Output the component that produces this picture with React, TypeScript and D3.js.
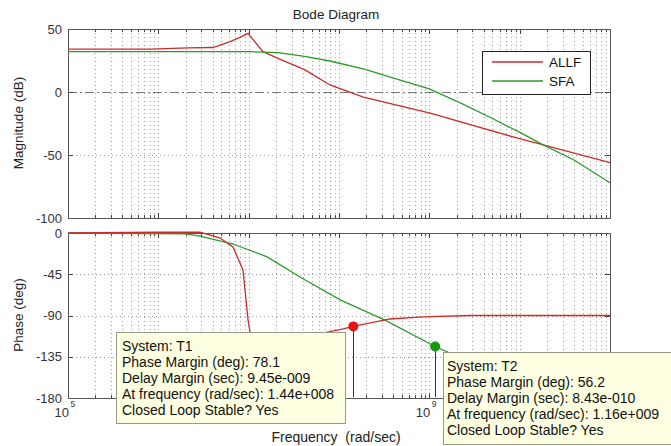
import React, { useEffect, useRef } from 'react';
import * as d3 from 'd3';

// frequencies in rad/sec
const allfMagFreq = [1e5, 8.1e5, 2.13e6, 4.03e6, 6.21e6, 8.02e6, 9.84e6, 1.44e7, 2.11e7, 4.21e7, 7.94e7, 1.86e8, 1.02e9, 9.3e9, 1.82e10, 1e11];
const allfMagDb = [34, 34, 35, 35.3, 40, 43.4, 46.5, 32, 26.7, 17.5, 5.6, -4, -16.7, -36.5, -42, -56];

const sfaMagFreq = [1e5, 1e7, 2.11e7, 4e7, 7.94e7, 1.95e8, 4e8, 1e9, 2.2e9, 5e9, 9.8e9, 1.82e10, 4e10, 1e11];
const sfaMagDb = [32, 32, 31.3, 28.5, 24.6, 18, 11, 2.4, -8.7, -21, -31.7, -42, -54, -72];

const allfPhFreq = [1e5, 1e6, 2.9e6, 3.46e6, 4.82e6, 6.71e6, 8.65e6, 9.84e6, 1.035e7, 1.09e7, 3.7e7, 1.11e8, 1.44e8, 3.67e8, 8.51e8, 2.82e9, 1e11];
const allfPhDeg = [0, 0.8, 0.8, -1.1, -5.5, -15.3, -40.4, -94.9, -108, -116.7, -114.5, -104.7, -101.9, -93.8, -91.6, -90, -90];

const sfaPhFreq = [1e5, 2e6, 2.89e6, 6.71e6, 1.6e7, 3.7e7, 1.03e8, 3.23e8, 1.16e9, 6.05e9, 1e11];
const sfaPhDeg = [0, -1, -3.3, -12, -26, -48, -73, -95, -123.8, -155, -171];

const magTicks = [50, 0, -50, -100];
const phaseTicks = [0, -45, -90, -135, -180];
const decades = [5, 6, 7, 8, 9, 10, 11];
// decade labels that are not hidden under the data tips
const shownDecades = [5, 8, 9];

const seriesNames = ['ALLF', 'SFA'];
const seriesColors = ['#cc2b2b', '#2b9b2b'];

const tipT1 = ['System: T1', 'Phase Margin (deg): 78.1', 'Delay Margin (sec): 9.45e-009', 'At frequency (rad/sec): 1.44e+008', 'Closed Loop Stable? Yes'];
const tipT2 = ['System: T2', 'Phase Margin (deg): 56.2', 'Delay Margin (sec): 8.43e-010', 'At frequency (rad/sec): 1.16e+009', 'Closed Loop Stable? Yes'];
const marginFreq = [1.44e8, 1.16e9];
const marginPhase = [-101.9, -123.8];

const FONT = '"Liberation Sans", Arial, sans-serif';

export default function App() {
  const ref = useRef<SVGSVGElement>(null);

  useEffect(() => {
    if (!ref.current) return;
    const svg = d3.select(ref.current);
    svg.selectAll('*').remove();

    const left = 68, right = 610;
    const x = d3.scaleLog().domain([1e5, 1e11]).range([left, right]);
    const yMag = d3.scaleLinear().domain([-100, 50]).range([218, 29]);
    const yPh = d3.scaleLinear().domain([-180, 0]).range([398, 233]);

    // all minor + major frequencies inside the box
    const gridFreqs: number[] = [];
    for (let d = 5; d < 11; d++) {
      for (let m = 1; m <= 9; m++) gridFreqs.push(m * Math.pow(10, d));
    }
    const inner = gridFreqs.filter(f => f > 1e5);

    const panel = (y: d3.ScaleLinear<number, number>, ticks: number[], id: string, zeroDash: boolean) => {
      const [y0, y1] = [y.range()[1], y.range()[0]];
      const g = svg.append('g');

      svg.append('clipPath').attr('id', id).append('rect')
        .attr('x', left).attr('y', y0 - 2).attr('width', right - left + 1).attr('height', y1 - y0 + 4);

      g.append('rect').attr('x', left).attr('y', y0).attr('width', right - left).attr('height', y1 - y0).attr('fill', '#fff');

      // vertical grid
      g.selectAll('.vg').data(inner).enter().append('line')
        .attr('x1', d => Math.round(x(d)) + 0.5).attr('x2', d => Math.round(x(d)) + 0.5).attr('y1', y0).attr('y2', y1)
        .attr('stroke', '#a2a2a2').attr('stroke-dasharray', '1,3');

      // horizontal grid
      g.selectAll('.hg').data(ticks.slice(1, -1)).enter().append('line')
        .attr('x1', left).attr('x2', right).attr('y1', d => Math.round(y(d)) + 0.5).attr('y2', d => Math.round(y(d)) + 0.5)
        .attr('stroke', d => (zeroDash && d === 0 ? '#7a7a7a' : '#a2a2a2'))
        .attr('stroke-dasharray', d => (zeroDash && d === 0 ? '9,3,2,3' : '1,3'));

      // ticks on top and bottom
      g.selectAll('.tt').data(inner).enter().append('path')
        .attr('d', d => {
          const lg = Math.log10(d);
          const len = Math.abs(lg - Math.round(lg)) < 1e-6 ? 5 : 3;
          const xx = Math.round(x(d)) + 0.5;
          return `M${xx},${y0}v${len}M${xx},${y1}v${-len}`;
        })
        .attr('stroke', '#444');

      g.selectAll('.yt').data(ticks).enter().append('path')
        .attr('d', d => `M${left},${Math.round(y(d)) + 0.5}h5M${right},${Math.round(y(d)) + 0.5}h-5`)
        .attr('stroke', '#444');

      g.selectAll('.yl').data(ticks).enter().append('text')
        .attr('x', left - 6).attr('y', d => y(d) + 4.5)
        .attr('text-anchor', 'end').attr('font-size', 13).attr('fill', '#333')
        .attr('font-family', FONT)
        .text(d => String(d));

      g.append('rect').attr('x', left + 0.5).attr('y', y0 + 0.5).attr('width', right - left).attr('height', y1 - y0)
        .attr('fill', 'none').attr('stroke', '#555');
      return g;
    };

    panel(yMag, magTicks, 'clipMag', true);
    panel(yPh, phaseTicks, 'clipPh', false);

    const drawLine = (fs: number[], vs: number[], y: d3.ScaleLinear<number, number>, color: string, clip: string) => {
      const pts = fs.map((f, i) => [f, vs[i]] as [number, number]);
      const line = d3.line<[number, number]>().x(d => x(d[0])).y(d => y(d[1]));
      svg.append('path').attr('d', line(pts)).attr('fill', 'none')
        .attr('stroke', color).attr('stroke-width', 1.3).attr('clip-path', `url(#${clip})`);
    };

    drawLine(allfMagFreq, allfMagDb, yMag, seriesColors[0], 'clipMag');
    drawLine(sfaMagFreq, sfaMagDb, yMag, seriesColors[1], 'clipMag');
    drawLine(sfaPhFreq, sfaPhDeg, yPh, seriesColors[1], 'clipPh');
    drawLine(allfPhFreq, allfPhDeg, yPh, seriesColors[0], 'clipPh');

    // x tick labels 10^n
    decades.filter(d => shownDecades.includes(d)).forEach(d => {
      const xx = x(Math.pow(10, d));
      svg.append('text').attr('font-family', FONT).attr('fill', '#333')
        .attr('x', xx + 1).attr('y', 417).attr('text-anchor', 'end').attr('font-size', 13).text('10');
      svg.append('text').attr('font-family', FONT).attr('fill', '#333')
        .attr('x', xx + 2.5).attr('y', 407).attr('font-size', 8.5).text(String(d));
    });

    // labels
    const label = (txt: string, xx: number, yy: number, size: number, rot = 0) =>
      svg.append('text').attr('font-family', FONT).attr('font-size', size).attr('fill', '#222')
        .attr('text-anchor', 'middle')
        .attr('transform', `translate(${xx},${yy}) rotate(${rot})`)
        .text(txt);
    label('Bode Diagram', 336, 19, 13.5);
    label('Magnitude (dB)', 23, 123, 13.5, -90);
    label('Phase (deg)', 23, 315, 13.5, -90);
    label('Frequency\u00a0\u00a0(rad/sec)', 336, 442, 14);

    // legend
    const lg = svg.append('g');
    lg.append('rect').attr('x', 482.5).attr('y', 51.5).attr('width', 108).attr('height', 43)
      .attr('fill', '#fff').attr('stroke', '#222');
    seriesNames.forEach((n, i) => {
      const yy = 62 + i * 19;
      lg.append('line').attr('x1', 492).attr('x2', 543).attr('y1', yy).attr('y2', yy)
        .attr('stroke', seriesColors[i]).attr('stroke-width', 1.3);
      lg.append('text').attr('x', 549).attr('y', yy + 5).attr('font-family', FONT)
        .attr('font-size', 13.5).attr('fill', '#111').text(n);
    });

    // margin markers
    marginFreq.forEach((f, i) => {
      const mx = x(f), my = yPh(marginPhase[i]);
      svg.append('line').attr('x1', Math.round(mx) + 0.5).attr('x2', Math.round(mx) + 0.5)
        .attr('y1', my).attr('y2', 397).attr('stroke', '#333');
      svg.append('circle').attr('cx', mx).attr('cy', my).attr('r', 5)
        .attr('fill', i === 0 ? '#ee1111' : '#119911');
    });

    // data tips
    const tip = (lines: string[], bx: number, by: number, w: number, h: number, tx: number) => {
      const g = svg.append('g');
      g.append('rect').attr('x', bx + 0.5).attr('y', by + 0.5).attr('width', w).attr('height', h)
        .attr('fill', '#ffffe1').attr('stroke', '#9a9a8a');
      lines.forEach((l, i) => {
        g.append('text').attr('x', tx).attr('y', by + 19 + i * 16)
          .attr('font-family', FONT).attr('font-size', 14).attr('fill', '#111').text(l);
      });
    };
    tip(tipT1, 116, 332, 229, 91, 122);
    tip(tipT2, 443, 352, 232, 92, 447);
  }, []);

  return (
    <div style={{ position: 'absolute', left: 0, top: 0, background: '#fff' }}>
      <svg ref={ref} width={671} height={446} style={{ display: 'block' }} />
    </div>
  );
}
